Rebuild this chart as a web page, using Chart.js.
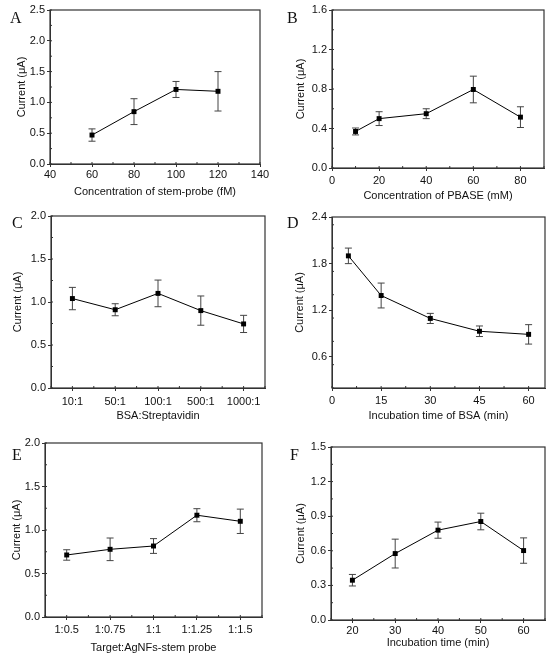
<!DOCTYPE html>
<html>
<head>
<meta charset="utf-8">
<script src="https://cdn.jsdelivr.net/npm/chart.js@4.4.0/dist/chart.umd.min.js"></script>
<style>
  body { margin: 0; background: #fff; width: 550px; height: 659px; position: relative; overflow: hidden; }
  canvas { position: absolute; }
  .lbl { position: absolute; font-family: "Liberation Serif", "Times New Roman", serif; font-size: 16px; line-height: 16px; color: #111; }
</style>
</head>
<body>
<canvas id="cA"></canvas>
<canvas id="cB"></canvas>
<canvas id="cC"></canvas>
<canvas id="cD"></canvas>
<canvas id="cE"></canvas>
<canvas id="cF"></canvas>
<div class="lbl" style="left:10px;top:10px">A</div>
<div class="lbl" style="left:287px;top:10px">B</div>
<div class="lbl" style="left:12px;top:215px">C</div>
<div class="lbl" style="left:287px;top:215px">D</div>
<div class="lbl" style="left:12px;top:447px">E</div>
<div class="lbl" style="left:290px;top:447px">F</div>
<script>
// A - stem-probe concentration
const aConc = [60, 80, 100, 120];
const aCurrent = [0.47, 0.85, 1.21, 1.18];
const aErr = [0.10, 0.21, 0.13, 0.32];
const aXTicks = [40, 60, 80, 100, 120, 140];
const aYTicks = [0, 0.5, 1.0, 1.5, 2.0, 2.5];

// B - PBASE concentration
const bConc = [10, 20, 40, 60, 80];
const bCurrent = [0.37, 0.50, 0.55, 0.795, 0.515];
const bErr = [0.035, 0.07, 0.05, 0.135, 0.105];
const bXTicks = [0, 20, 40, 60, 80];
const bYTicks = [0, 0.4, 0.8, 1.2, 1.6];

// C - BSA:Streptavidin ratio
const cRatios = ['10:1', '50:1', '100:1', '500:1', '1000:1'];
const cCurrent = [1.04, 0.91, 1.10, 0.90, 0.745];
const cErr = [0.13, 0.07, 0.155, 0.17, 0.10];
const cYTicks = [0, 0.5, 1.0, 1.5, 2.0];

// D - BSA incubation time
const dTime = [5, 15, 30, 45, 60];
const dCurrent = [1.90, 1.39, 1.095, 0.93, 0.89];
const dErr = [0.10, 0.16, 0.065, 0.068, 0.125];
const dXTicks = [0, 15, 30, 45, 60];
const dYTicks = [0.6, 1.2, 1.8, 2.4];

// E - Target:AgNFs-stem probe ratio
const eRatios = ['1:0.5', '1:0.75', '1:1', '1:1.25', '1:1.5'];
const eCurrent = [0.713, 0.778, 0.816, 1.17, 1.10];
const eErr = [0.06, 0.13, 0.085, 0.075, 0.14];
const eYTicks = [0, 0.5, 1.0, 1.5, 2.0];

// F - incubation time
const fTime = [20, 30, 40, 50, 60];
const fCurrent = [0.345, 0.576, 0.779, 0.854, 0.602];
const fErr = [0.05, 0.125, 0.07, 0.072, 0.11];
const fXTicks = [20, 30, 40, 50, 60];
const fYTicks = [0, 0.3, 0.6, 0.9, 1.2, 1.5];

const axisColor = '#333';
const textColor = '#111';
const sans = '"Liberation Sans", Arial, sans-serif';

// error bars, closed frame and minor ticks
const framePlugin = {
  id: 'frame',
  beforeDatasetsDraw(chart, args, opts) {
    const ctx = chart.ctx;
    const ys = chart.scales.y;
    const pts = chart.getDatasetMeta(0).data;
    const vals = chart.data.datasets[0].data;
    ctx.save();
    ctx.strokeStyle = '#444';
    ctx.lineWidth = 1;
    pts.forEach((p, i) => {
      const e = opts.err[i];
      const top = ys.getPixelForValue(vals[i].y + e);
      const bot = ys.getPixelForValue(vals[i].y - e);
      ctx.beginPath();
      ctx.moveTo(p.x, top); ctx.lineTo(p.x, bot);
      ctx.moveTo(p.x - 3.5, top); ctx.lineTo(p.x + 3.5, top);
      ctx.moveTo(p.x - 3.5, bot); ctx.lineTo(p.x + 3.5, bot);
      ctx.stroke();
    });
    ctx.restore();
  },
  afterDraw(chart, args, opts) {
    const ctx = chart.ctx;
    const a = chart.chartArea;
    const xs = chart.scales.x, ys = chart.scales.y;
    ctx.save();
    ctx.strokeStyle = axisColor;
    ctx.lineWidth = 1.2;
    ctx.strokeRect(a.left, a.top, a.right - a.left, a.bottom - a.top);
    ctx.lineWidth = 1;
    ctx.beginPath();
    for (let v = xs.min; v <= xs.max + 1e-9; v += opts.xMinor) {
      const px = xs.getPixelForValue(v);
      ctx.moveTo(px, a.bottom); ctx.lineTo(px, a.bottom - 2);
    }
    for (let v = ys.min; v <= ys.max + 1e-9; v += opts.yMinor) {
      const py = ys.getPixelForValue(v);
      ctx.moveTo(a.left, py); ctx.lineTo(a.left + 2, py);
    }
    ctx.stroke();
    ctx.restore();
  }
};

function panel(id, box, plot, cfg) {
  const cv = document.getElementById(id);
  cv.width = box[2] - box[0];
  cv.height = box[3] - box[1];
  cv.style.left = box[0] + 'px';
  cv.style.top = box[1] + 'px';
  const yW = plot[0] - box[0];
  const xH = box[3] - plot[3];
  const fixTicks = (vals) => (s) => { s.ticks = vals.map(v => ({ value: v })); };
  const noPad = (s) => { s.paddingLeft = 0; s.paddingRight = 0; s.paddingTop = 0; s.paddingBottom = 0; };
  return new Chart(cv, {
    type: 'line',
    data: {
      datasets: [{
        data: cfg.x.map((x, i) => ({ x: x, y: cfg.y[i] })),
        borderColor: '#000',
        borderWidth: 1,
        pointStyle: 'rect',
        pointRadius: 3.5,
        pointBackgroundColor: '#000',
        pointBorderWidth: 0,
        tension: 0
      }]
    },
    options: {
      responsive: false,
      animation: false,
      layout: { padding: { top: plot[1] - box[1], right: box[2] - plot[2], left: 0, bottom: 0 } },
      plugins: {
        legend: { display: false },
        tooltip: { enabled: false },
        frame: { err: cfg.err, xMinor: cfg.xMinor, yMinor: cfg.yMinor }
      },
      scales: {
        x: {
          type: 'linear',
          min: cfg.xMin, max: cfg.xMax,
          afterBuildTicks: fixTicks(cfg.xTicks),
          afterFit: (s) => { s.height = xH; noPad(s); },
          grid: { drawOnChartArea: false, tickLength: 3, color: axisColor },
          border: { color: axisColor },
          ticks: { padding: cfg.xPad, color: textColor, font: { family: sans, size: 11 },
                   maxRotation: 0, autoSkip: false, callback: cfg.xLabel },
          title: { display: true, text: cfg.xTitle, color: textColor, padding: 0,
                   font: { family: sans, size: 11 } }
        },
        y: {
          min: cfg.yMin, max: cfg.yMax,
          afterBuildTicks: fixTicks(cfg.yTicks),
          afterFit: (s) => { s.width = yW; noPad(s); },
          grid: { drawOnChartArea: false, tickLength: 3, color: axisColor },
          border: { color: axisColor },
          ticks: { padding: 2, color: textColor, font: { family: sans, size: 11 },
                   autoSkip: false, callback: (v) => v.toFixed(1) },
          title: { display: true, text: 'Current (μA)', color: textColor, padding: 0,
                   font: { family: sans, size: 11 } }
        }
      }
    },
    plugins: [framePlugin]
  });
}

const intLabel = (v) => String(v);

panel('cA', [15, 0, 275, 199], [50, 10, 260, 164], {
  x: aConc, y: aCurrent, err: aErr, xMin: 40, xMax: 140, xTicks: aXTicks, xMinor: 10,
  yMin: 0, yMax: 2.5, yTicks: aYTicks, yMinor: 0.25, xPad: 1, xLabel: intLabel,
  xTitle: 'Concentration of stem-probe (fM)'
});
panel('cB', [294, 0, 550, 203], [332, 10, 544, 168], {
  x: bConc, y: bCurrent, err: bErr, xMin: 0, xMax: 90, xTicks: bXTicks, xMinor: 10,
  yMin: 0, yMax: 1.6, yTicks: bYTicks, yMinor: 0.2, xPad: 3, xLabel: intLabel,
  xTitle: 'Concentration of PBASE (mM)'
});
panel('cC', [11, 205, 275, 423], [51, 216, 265, 388], {
  x: cRatios.map((r, i) => i), y: cCurrent, err: cErr, xMin: -0.5, xMax: 4.5,
  xTicks: cRatios.map((r, i) => i), xMinor: 0.5,
  yMin: 0, yMax: 2.0, yTicks: cYTicks, yMinor: 0.25, xPad: 4,
  xLabel: (v) => cRatios[v] || '', xTitle: 'BSA:Streptavidin'
});
panel('cD', [293, 205, 550, 423], [332, 217, 545, 388], {
  x: dTime, y: dCurrent, err: dErr, xMin: 0, xMax: 65, xTicks: dXTicks, xMinor: 7.5,
  yMin: 0.2, yMax: 2.4, yTicks: dYTicks, yMinor: 0.3, xPad: 3, xLabel: intLabel,
  xTitle: 'Incubation time of BSA (min)'
});
panel('cE', [10, 432, 275, 655], [45, 443, 262, 617], {
  x: eRatios.map((r, i) => i), y: eCurrent, err: eErr, xMin: -0.5, xMax: 4.5,
  xTicks: eRatios.map((r, i) => i), xMinor: 0.5,
  yMin: 0, yMax: 2.0, yTicks: eYTicks, yMinor: 0.25, xPad: 3,
  xLabel: (v) => eRatios[v] || '', xTitle: 'Target:AgNFs-stem probe'
});
panel('cF', [294, 436, 550, 650], [331, 447, 545, 620], {
  x: fTime, y: fCurrent, err: fErr, xMin: 15, xMax: 65, xTicks: fXTicks, xMinor: 5,
  yMin: 0, yMax: 1.5, yTicks: fYTicks, yMinor: 0.15, xPad: 1, xLabel: intLabel,
  xTitle: 'Incubation time (min)'
});
</script>
</body>
</html>
